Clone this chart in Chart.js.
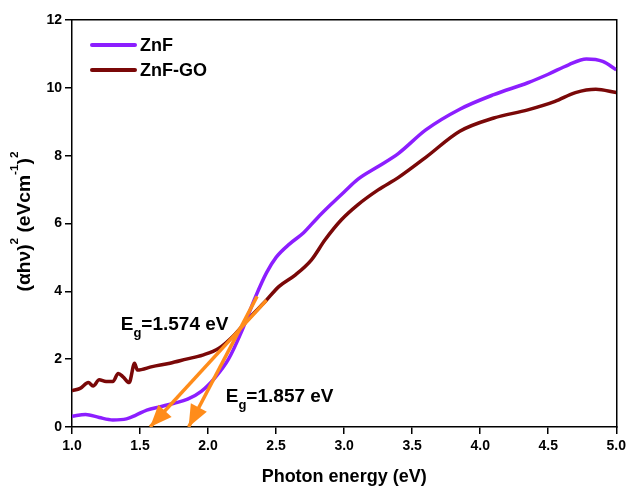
<!DOCTYPE html>
<html>
<head>
<meta charset="utf-8">
<script src="https://cdn.jsdelivr.net/npm/chart.js@4"></script>
<style>
html, body { margin: 0; padding: 0; background: #fff; }
#wrap { width: 630px; height: 486px; position: relative; }
</style>
</head>
<body>
<div id="wrap"><canvas id="myChart"></canvas></div>
<script>
// ZnF
const znfE = [1.0, 1.1, 1.2, 1.3, 1.4, 1.47, 1.55, 1.65, 1.75, 1.85, 1.95, 2.05, 2.15, 2.25, 2.35, 2.43, 2.5, 2.6, 2.7, 2.8, 2.9, 3.0, 3.1, 3.25, 3.4, 3.6, 3.85, 4.1, 4.35, 4.5, 4.65, 4.78, 4.9, 5.0];
const znfY = [0.32, 0.37, 0.28, 0.21, 0.24, 0.35, 0.5, 0.6, 0.7, 0.82, 1.05, 1.45, 2.0, 2.85, 3.85, 4.55, 5.0, 5.4, 5.72, 6.15, 6.55, 6.93, 7.3, 7.68, 8.07, 8.76, 9.37, 9.8, 10.15, 10.4, 10.68, 10.85, 10.78, 10.53];
// ZnF-GO
const goE = [1.0, 1.06, 1.12, 1.155, 1.2, 1.25, 1.3, 1.34, 1.375, 1.42, 1.46, 1.48, 1.59, 1.72, 1.84, 1.96, 2.08, 2.18, 2.3, 2.42, 2.52, 2.64, 2.76, 2.86, 2.98, 3.1, 3.25, 3.4, 3.6, 3.85, 4.1, 4.35, 4.55, 4.7, 4.85, 5.0];
const goY = [1.07, 1.14, 1.31, 1.21, 1.39, 1.34, 1.34, 1.58, 1.48, 1.31, 1.88, 1.68, 1.78, 1.88, 2.0, 2.12, 2.32, 2.66, 3.2, 3.7, 4.14, 4.48, 4.93, 5.52, 6.11, 6.55, 6.99, 7.36, 7.95, 8.72, 9.11, 9.35, 9.6, 9.86, 9.96, 9.86];
// tangent lines (band gap extrapolation)
const fitZnfE = [1.857, 2.36];
const fitZnfY = [0, 3.85];
const fitGoE = [1.574, 2.43];
const fitGoY = [0, 3.74];
const gapLabels = ['1.574', '1.857'];
const gapLabelAt = [[1.358, 2.86], [2.13, 0.75]];

const toPoints = (xs, ys) => xs.map((x, i) => ({x: x, y: ys[i]}));

const purple = 'rgb(140, 30, 255)';
const brown = 'rgb(122, 8, 8)';
const orange = 'rgb(255, 140, 26)';
const FONT = 'Liberation Sans, Arial, sans-serif';

Chart.defaults.font.family = FONT;
Chart.defaults.color = '#000';

// draws text pieces, [text, sizePx, raise]
function drawPieces(ctx, pieces, x, y) {
    pieces.forEach(([t, size, raise]) => {
        ctx.font = 'bold ' + size + 'px ' + FONT;
        ctx.fillText(t, x, y - raise);
        x += ctx.measureText(t).width;
    });
    return x;
}
function piecesWidth(ctx, pieces) {
    let w = 0;
    pieces.forEach(([t, size]) => {
        ctx.font = 'bold ' + size + 'px ' + FONT;
        w += ctx.measureText(t).width;
    });
    return w;
}

const extras = {
    id: 'extras',
    afterDatasetsDraw(chart) {
        const ctx = chart.ctx;
        const xs = chart.scales.x, ys = chart.scales.y;
        ctx.save();
        // arrow heads
        [[fitZnfE, fitZnfY], [fitGoE, fitGoY]].forEach(([e, v]) => {
            const tx = xs.getPixelForValue(e[0]), ty = ys.getPixelForValue(v[0]);
            const sx = xs.getPixelForValue(e[1]), sy = ys.getPixelForValue(v[1]);
            const a = Math.atan2(ty - sy, tx - sx);
            const len = 22, hw = 9;
            const bx = tx - len * Math.cos(a), by = ty - len * Math.sin(a);
            ctx.fillStyle = orange;
            ctx.beginPath();
            ctx.moveTo(tx, ty);
            ctx.lineTo(bx + hw * Math.sin(a), by - hw * Math.cos(a));
            ctx.lineTo(bx - hw * Math.sin(a), by + hw * Math.cos(a));
            ctx.closePath();
            ctx.fill();
        });
        // Eg labels
        ctx.fillStyle = '#000';
        ctx.textBaseline = 'alphabetic';
        ctx.textAlign = 'left';
        gapLabels.forEach((lab, i) => {
            const x = xs.getPixelForValue(gapLabelAt[i][0]);
            const y = ys.getPixelForValue(gapLabelAt[i][1]);
            drawPieces(ctx, [['E', 19, 0], ['g', 13, -7], ['=' + lab + ' eV', 19, 0]], x, y);
        });
        // legend
        const items = chart.data.datasets.filter(d => d.label);
        items.forEach((d, i) => {
            const ly = 45 + i * 25;
            ctx.strokeStyle = d.borderColor;
            ctx.lineWidth = 4;
            ctx.lineCap = 'round';
            ctx.beginPath();
            ctx.moveTo(92, ly);
            ctx.lineTo(135, ly);
            ctx.stroke();
            ctx.fillStyle = '#000';
            ctx.font = 'bold 18px ' + FONT;
            ctx.textBaseline = 'middle';
            ctx.fillText(d.label, 140, ly + 1);
        });
        // y axis title with real superscripts
        const pieces = [['(αhν)', 18, 0], ['2', 11, 12], [' (eVcm', 18, 0], ['-1', 11, 12], [')', 18, 0], ['2', 11, 12]];
        ctx.textBaseline = 'alphabetic';
        const w = piecesWidth(ctx, pieces);
        const k = 140 / w;
        const cy = (chart.chartArea.top + chart.chartArea.bottom) / 2 - 2;
        ctx.translate(30, cy);
        ctx.rotate(-Math.PI / 2);
        ctx.scale(k, 1);
        drawPieces(ctx, pieces, -w / 2, 0);
        ctx.restore();
    }
};

const axisCommon = {
    border: { display: true, color: '#000', width: 1.5 },
};

const config = {
    type: 'line',
    data: {
        datasets: [
            {
                data: toPoints(fitZnfE, fitZnfY),
                borderColor: orange,
                borderWidth: 3.5,
                pointRadius: 0,
                order: 0,
            },
            {
                data: toPoints(fitGoE, fitGoY),
                borderColor: orange,
                borderWidth: 3.5,
                pointRadius: 0,
                order: 0,
            },
            {
                label: 'ZnF',
                data: toPoints(znfE, znfY),
                borderColor: purple,
                borderWidth: 3.5,
                pointRadius: 0,
                cubicInterpolationMode: 'monotone',
                order: 1,
            },
            {
                label: 'ZnF-GO',
                data: toPoints(goE, goY),
                borderColor: brown,
                borderWidth: 3.5,
                pointRadius: 0,
                cubicInterpolationMode: 'monotone',
                order: 2,
            },
        ]
    },
    options: {
        responsive: true,
        maintainAspectRatio: false,
        animation: false,
        layout: { padding: 0 },
        plugins: {
            legend: { display: false },
            tooltip: { enabled: false },
        },
        scales: {
            x: {
                type: 'linear',
                position: 'bottom',
                min: 1,
                max: 5,
                ...axisCommon,
                grid: { drawOnChartArea: false, drawTicks: true, tickLength: 7, color: '#000', lineWidth: 1.5 },
                ticks: {
                    stepSize: 0.5,
                    padding: 4,
                    font: { size: 14, weight: 'bold' },
                    callback: v => v.toFixed(1),
                },
                title: {
                    display: true,
                    text: 'Photon energy (eV)',
                    font: { size: 18, weight: 'bold', lineHeight: 1 },
                    padding: { top: 0, bottom: 0 },
                },
                afterFit: s => { s.height = 59; },
            },
            x2: {
                type: 'linear',
                position: 'top',
                min: 1,
                max: 5,
                ...axisCommon,
                grid: { display: false },
                ticks: { display: false },
                afterFit: s => { s.height = 20; },
            },
            y: {
                type: 'linear',
                position: 'left',
                min: 0,
                max: 12,
                ...axisCommon,
                grid: { drawOnChartArea: false, drawTicks: true, tickLength: 7, color: '#000', lineWidth: 1.5 },
                ticks: {
                    stepSize: 2,
                    padding: 3,
                    font: { size: 14, weight: 'bold' },
                },
                title: { display: false },
                afterFit: s => { s.width = 72; },
            },
            y2: {
                type: 'linear',
                position: 'right',
                min: 0,
                max: 12,
                ...axisCommon,
                grid: { display: false },
                ticks: { display: false },
                afterFit: s => { s.width = 10; },
            },
        },
    },
    plugins: [extras],
};

const myChart = new Chart(document.getElementById('myChart'), config);
</script>
</body>
</html>
